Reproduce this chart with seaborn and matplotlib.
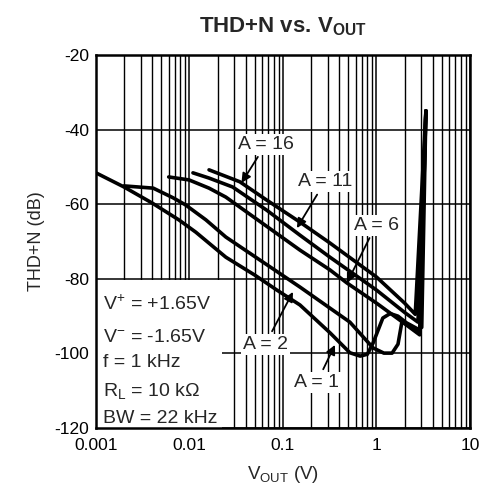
import numpy as np
import pandas as pd
import matplotlib
matplotlib.use("Agg")
import matplotlib.pyplot as plt
import seaborn as sns
from matplotlib.ticker import FixedLocator, LogLocator, NullFormatter
from matplotlib.patches import Rectangle

# THD+N (dB) vs output voltage (V)
vout_a1 = [0.001, 0.002, 0.004, 0.0077, 0.0117, 0.0245, 0.05, 0.086, 0.152, 0.32, 0.52, 0.67, 0.8, 0.92, 1.17, 1.4, 1.7, 2.1, 2.8, 3.05, 3.38]
thd_a1 = [-51.6, -55.4, -59.7, -64.2, -67.5, -74.2, -79.0, -83.0, -87.0, -94.5, -99.8, -100.7, -100.2, -97.2, -90.5, -89.3, -90.0, -91.8, -93.5, -93.0, -35.0]

vout_a2 = [0.002, 0.0041, 0.0067, 0.0091, 0.015, 0.0245, 0.152, 0.52, 0.92, 1.2, 1.47, 1.7, 1.87, 2.3, 2.9, 3.38]
thd_a2 = [-55.1, -55.7, -58.3, -60.2, -64.2, -68.8, -82.2, -91.6, -98.5, -99.9, -99.9, -97.5, -91.6, -92.5, -94.5, -35.0]

vout_a6 = [0.006, 0.0099, 0.0162, 0.0245, 0.152, 0.318, 0.483, 1.0, 2.0, 2.9, 3.38]
thd_a6 = [-52.7, -53.5, -55.7, -58.1, -72.3, -77.6, -81.1, -86.5, -92.0, -95.0, -35.0]

vout_a11 = [0.0109, 0.0162, 0.029, 0.067, 0.152, 0.318, 1.0, 2.0, 2.78, 3.38]
thd_a11 = [-51.6, -53.0, -55.4, -61.6, -68.3, -74.2, -83.0, -89.0, -91.6, -35.0]

vout_a16 = [0.0162, 0.0346, 0.067, 0.152, 0.318, 1.0, 2.0, 2.6, 3.38]
thd_a16 = [-50.8, -54.0, -58.9, -64.8, -70.4, -79.5, -86.5, -89.5, -35.0]

gains = ["A = 1", "A = 2", "A = 6", "A = 11", "A = 16"]
x_ticks = [0.001, 0.01, 0.1, 1, 10]
x_tick_labels = ["0.001", "0.01", "0.1", "1", "10"]
y_ticks = [-120, -100, -80, -60, -40, -20]
conditions = [r"V$^{+}$ = +1.65V", r"V$^{-}$ = -1.65V", "f = 1 kHz",
              r"R$_{\mathregular{L}}$ = 10 k" + "\u03a9", "BW = 22 kHz"]

frames = []
for g, xs, ys in zip(gains,
                     [vout_a1, vout_a2, vout_a6, vout_a11, vout_a16],
                     [thd_a1, thd_a2, thd_a6, thd_a11, thd_a16]):
    frames.append(pd.DataFrame({"vout": xs, "thd": ys, "gain": g}))
df = pd.concat(frames, ignore_index=True)

sns.set_theme(style="white")
plt.rcParams["font.family"] = ["Liberation Sans", "DejaVu Sans"]
plt.rcParams["mathtext.fontset"] = "custom"
plt.rcParams["mathtext.rm"] = "Liberation Sans"
plt.rcParams["mathtext.it"] = "Liberation Sans"
plt.rcParams["mathtext.bf"] = "Liberation Sans:bold"

fig = plt.figure(figsize=(4.87, 4.99), dpi=100)
ax = fig.add_axes([0.197, 0.142, 0.768, 0.748])

sns.lineplot(data=df, x="vout", y="thd", hue="gain", units="gain", estimator=None,
             sort=False, palette=["black"] * 5, linewidth=2.6, legend=False, ax=ax,
             zorder=3)

ax.set_xscale("log")
ax.set_xlim(0.001, 10)
ax.set_ylim(-120, -20)
ax.xaxis.set_major_locator(FixedLocator(x_ticks))
ax.set_xticklabels(x_tick_labels)
ax.xaxis.set_minor_locator(LogLocator(base=10, subs=np.arange(2, 10)))
ax.xaxis.set_minor_formatter(NullFormatter())
ax.set_yticks(y_ticks)
ax.set_yticklabels([str(v) for v in y_ticks])
ax.tick_params(which="both", length=0, labelsize=12.5, colors="black")
ax.tick_params(axis="x", pad=7)
ax.tick_params(axis="y", pad=5)

ax.grid(which="major", axis="both", color="black", linewidth=1.1)
ax.grid(which="minor", axis="x", color="black", linewidth=1.0)
for s in ax.spines.values():
    s.set_color("black")
    s.set_linewidth(1.8)

ax.set_title(r"THD+N vs. V$_{\mathbf{OUT}}$", fontsize=16, fontweight="bold", pad=16)
ax.set_xlabel(r"V$_{\mathregular{OUT}}$ (V)", fontsize=13.5, labelpad=8)
ax.set_ylabel("THD+N (dB)", fontsize=13, labelpad=7)

# conditions box
ax.add_patch(Rectangle((0, 0), 0.337, 0.397, transform=ax.transAxes,
                       facecolor="white", edgecolor="none", zorder=2.5))
cond_y = [0.316, 0.231, 0.164, 0.086, 0.013]
for txt, yy in zip(conditions, cond_y):
    ax.text(0.019, yy, txt, transform=ax.transAxes, fontsize=14, va="baseline",
            ha="left", zorder=4)

# gain labels with arrows
label_pos = [(0.231, -107.7), (0.0646, -97.5), (0.99, -65.6), (0.281, -54.0), (0.0658, -43.9)]
arrow_tip = [(0.36, -97.7), (0.128, -83.5), (0.483, -81.1), (0.141, -66.4), (0.036, -54.3)]
for g, lp, at in zip(gains, label_pos, arrow_tip):
    ax.annotate(g, xy=at, xytext=lp, fontsize=14, ha="center", va="center", zorder=5,
                bbox=dict(boxstyle="square,pad=0.1", facecolor="white", edgecolor="none"),
                arrowprops=dict(arrowstyle="-|>", color="black", lw=1.3,
                                mutation_scale=14, shrinkA=2, shrinkB=0))

fig.savefig("out.png", dpi=100)
